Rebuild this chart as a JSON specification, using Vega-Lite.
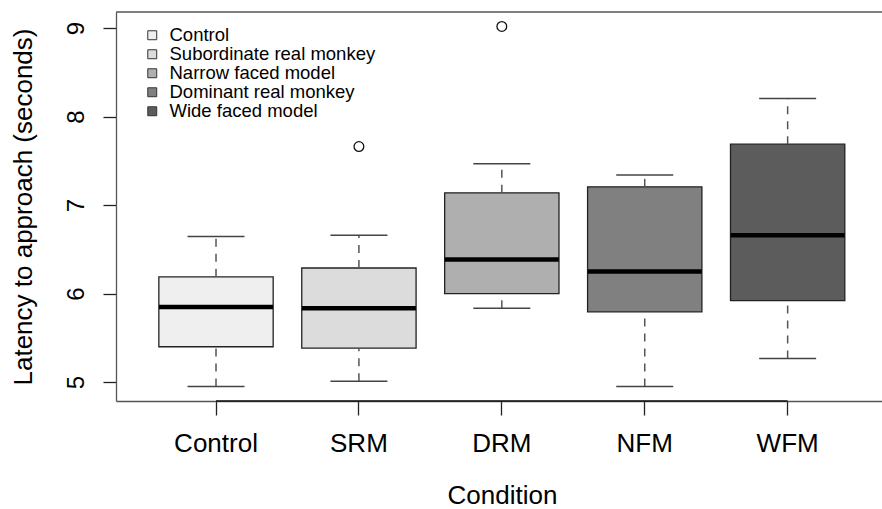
{
  "$schema": "https://vega.github.io/schema/vega-lite/v6.json",
  "autosize": "none",
  "width": 766,
  "height": 389,
  "padding": {"left": 116, "top": 12, "right": 0, "bottom": 108},
  "background": "white",
  "config": {
    "font": "Liberation Sans",
    "view": {"stroke": null},
    "axis": {"grid": false, "labelColor": "black", "titleColor": "black", "tickColor": "#222222", "tickWidth": 1.3, "titleFontWeight": "normal", "labelFont": "Liberation Sans", "titleFont": "Liberation Sans", "domainColor": "#555555", "domainWidth": 1.3}
  },
  "datasets": {
    "boxes": [
      {"condition": "Control", "lower": 4.95, "q1": 5.40, "median": 5.85, "q3": 6.19, "upper": 6.645},
      {"condition": "SRM", "lower": 5.01, "q1": 5.385, "median": 5.835, "q3": 6.29, "upper": 6.66},
      {"condition": "DRM", "lower": 5.835, "q1": 6.0, "median": 6.385, "q3": 7.14, "upper": 7.467},
      {"condition": "NFM", "lower": 4.95, "q1": 5.795, "median": 6.25, "q3": 7.207, "upper": 7.342},
      {"condition": "WFM", "lower": 5.267, "q1": 5.922, "median": 6.661, "q3": 7.689, "upper": 8.205}
    ],
    "outliers": [
      {"condition": "SRM", "value": 7.662},
      {"condition": "DRM", "value": 9.02}
    ],
    "axisline": [
      {"from": "Control", "to": "WFM", "base": 4.787}
    ],
    "frame": [
      {"top": 9.183}
    ]
  },
  "encoding": {
    "y": {
      "type": "quantitative",
      "scale": {"domain": [4.787, 9.183], "nice": false, "zero": false},
      "axis": {
        "title": "Latency to approach (seconds)",
        "domain": true,
        "values": [5, 6, 7, 8, 9],
        "labelFontSize": 24,
        "labelAngle": 270,
        "labelAlign": "center",
        "labelBaseline": "alphabetic",
        "labelPadding": 20,
        "tickSize": 13,
        "titleFontSize": 26,
        "titleAngle": 270,
        "titleBaseline": "alphabetic",
        "titleAlign": "center",
        "titleX": -85,
        "titleY": 194.5
      }
    }
  },
  "layer": [
    {
      "data": {"name": "boxes"},
      "mark": {"type": "bar", "width": {"band": 0.8}, "stroke": "#222222", "strokeWidth": 1.3, "opacity": 1},
      "encoding": {
        "x": {
          "field": "condition",
          "type": "nominal",
          "sort": ["Control", "SRM", "DRM", "NFM", "WFM"],
          "scale": {"domain": ["Control", "SRM", "DRM", "NFM", "WFM"], "paddingInner": 0, "paddingOuter": 0.18, "align": 0.555},
          "axis": {
            "title": "Condition",
            "domain": true,
            "labelAngle": 0,
            "labelFontSize": 26,
            "labelBaseline": "alphabetic",
            "labelPadding": 36,
            "tickSize": 14,
            "titleFontSize": 26,
            "titleBaseline": "alphabetic",
            "titleAlign": "center",
            "titleX": 386,
            "titleY": 102
          }
        },
        "y": {"field": "q1", "type": "quantitative"},
        "y2": {"field": "q3"},
        "color": {
          "field": "condition",
          "type": "nominal",
          "scale": {
            "domain": ["Control", "SRM", "DRM", "NFM", "WFM"],
            "range": ["#efefef", "#dcdcdc", "#afafaf", "#808080", "#5c5c5c"]
          },
          "legend": {
            "orient": "none",
            "legendX": 27,
            "legendY": 14,
            "padding": 0,
            "title": null,
            "symbolType": "square",
            "symbolSize": 80,
            "symbolStrokeColor": "#333333",
            "symbolStrokeWidth": 1,
            "labelFontSize": 18.5,
            "labelColor": "black",
            "labelOffset": 8,
            "labelLimit": 500,
            "rowPadding": 0,
            "labelExpr": "{'Control': 'Control', 'SRM': 'Subordinate real monkey', 'DRM': 'Narrow faced model', 'NFM': 'Dominant real monkey', 'WFM': 'Wide faced model'}[datum.label]"
          }
        }
      }
    },
    {
      "data": {"name": "frame"},
      "mark": {"type": "rule", "color": "#555555", "strokeWidth": 1.3},
      "encoding": {
        "y": {"field": "top", "type": "quantitative"}
      }
    },
    {
      "data": {"name": "boxes"},
      "mark": {"type": "rule", "color": "#555555", "strokeWidth": 1.5, "strokeDash": [8, 7]},
      "encoding": {
        "x": {"field": "condition", "type": "nominal"},
        "y": {"field": "q3", "type": "quantitative"},
        "y2": {"field": "upper"}
      }
    },
    {
      "data": {"name": "boxes"},
      "mark": {"type": "rule", "color": "#555555", "strokeWidth": 1.5, "strokeDash": [8, 7]},
      "encoding": {
        "x": {"field": "condition", "type": "nominal"},
        "y": {"field": "lower", "type": "quantitative"},
        "y2": {"field": "q1"}
      }
    },
    {
      "data": {"name": "boxes"},
      "mark": {"type": "tick", "color": "#444444", "thickness": 1.5, "size": 57, "opacity": 1},
      "encoding": {
        "x": {"field": "condition", "type": "nominal"},
        "y": {"field": "upper", "type": "quantitative"}
      }
    },
    {
      "data": {"name": "boxes"},
      "mark": {"type": "tick", "color": "#444444", "thickness": 1.5, "size": 57, "opacity": 1},
      "encoding": {
        "x": {"field": "condition", "type": "nominal"},
        "y": {"field": "lower", "type": "quantitative"}
      }
    },
    {
      "data": {"name": "boxes"},
      "mark": {"type": "tick", "color": "black", "thickness": 4.5, "size": 114, "opacity": 1},
      "encoding": {
        "x": {"field": "condition", "type": "nominal"},
        "y": {"field": "median", "type": "quantitative"}
      }
    },
    {
      "data": {"name": "outliers"},
      "mark": {"type": "point", "shape": "circle", "size": 95, "filled": false, "stroke": "#111111", "strokeWidth": 1.3, "opacity": 1},
      "encoding": {
        "x": {"field": "condition", "type": "nominal"},
        "y": {"field": "value", "type": "quantitative"}
      }
    },
    {
      "data": {"name": "axisline"},
      "mark": {"type": "rule", "color": "#111111", "strokeWidth": 1.6},
      "encoding": {
        "x": {"field": "from", "type": "nominal"},
        "x2": {"field": "to"},
        "y": {"field": "base", "type": "quantitative"}
      }
    }
  ],
  "resolve": {"scale": {"x": "shared", "y": "shared"}}
}
